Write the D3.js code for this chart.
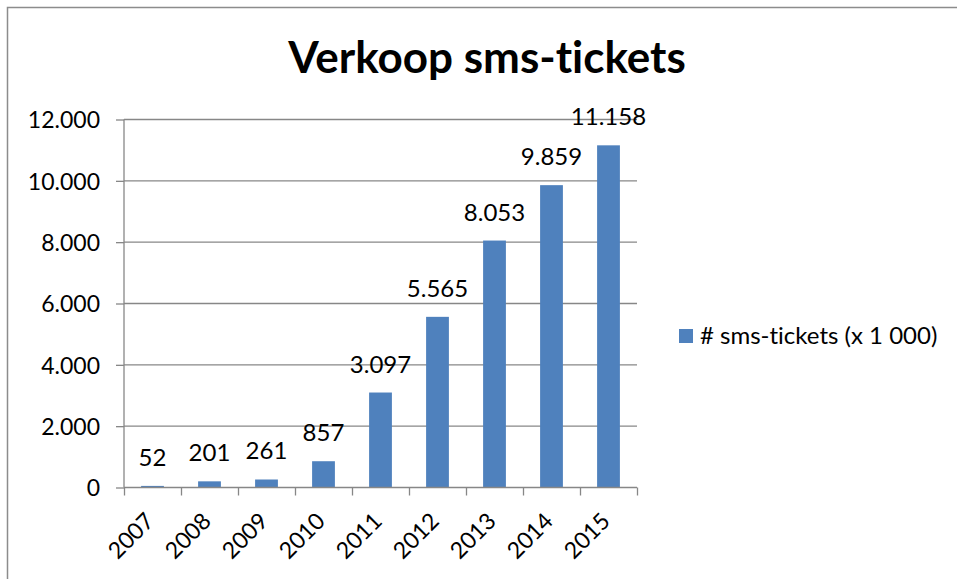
<!DOCTYPE html>
<html><head><meta charset="utf-8">
<script src="https://cdn.jsdelivr.net/npm/d3@7"></script>
<style>body{margin:0;background:#fff}svg{display:block}text{font-variant-ligatures:none;font-feature-settings:"liga" 0,"clig" 0}</style>
</head><body>
<svg id="c" width="957" height="579"></svg>
<script>
const title = "Verkoop sms-tickets";
const categories = ["2007","2008","2009","2010","2011","2012","2013","2014","2015"];
const values = [52,201,261,857,3097,5565,8053,9859,11158];
const valueLabels = ["52","201","261","857","3.097","5.565","8.053","9.859","11.158"];
const yTicks = [0,2000,4000,6000,8000,10000,12000];
const seriesName = "# sms-tickets (x 1 000)";

const svg = d3.select("#c");
const font = "Lato, 'Open Sans', sans-serif";
const gray = "#878787";
const blue = "#4F81BD";

// frame
svg.append("rect").attr("x",7.5).attr("y",7.5).attr("width",2000).attr("height",2000)
  .attr("fill","none").attr("stroke","#8c8c8c").attr("stroke-width",1.5);

const L=124, R=637, T=119.5, B=487.5;
const x = d3.scaleBand().domain(categories).range([L,R]).paddingInner(0.6).paddingOuter(0.3);
const xb = d3.scaleLinear().domain([0,categories.length]).range([L,R]);
const y = d3.scaleLinear().domain([0,12000]).range([B,T]);

// gridlines
svg.append("g").selectAll("line").data(yTicks.filter(d=>d>0)).join("line")
  .attr("x1",L).attr("x2",R).attr("y1",d=>y(d)).attr("y2",d=>y(d))
  .attr("stroke",gray).attr("stroke-width",1.3);

// y axis
const yAxis = svg.append("g").attr("transform",`translate(${L},0)`)
  .call(d3.axisLeft(y).tickValues(yTicks).tickSize(8).tickPadding(16)
    .tickFormat(d=>d3.format(",")(d).replace(/,/g,".")));
yAxis.select(".domain").attr("stroke",gray).attr("stroke-width",1.3).attr("d",`M0,${T}V${B}`);
yAxis.selectAll(".tick line").attr("stroke",gray).attr("stroke-width",1.3);
yAxis.selectAll("text").attr("font-family",font).attr("font-size",23).attr("fill","#000").attr("dy","0.36em");

// bars
svg.append("g").selectAll("rect").data(values).join("rect")
  .attr("x",(d,i)=>x(categories[i])).attr("width",x.bandwidth())
  .attr("y",d=>y(d)).attr("height",d=>B-y(d)).attr("fill",blue);

// x axis
const xAxis = svg.append("g").attr("transform",`translate(0,${B})`)
  .call(d3.axisBottom(xb).tickValues(d3.range(categories.length+1)).tickSize(8).tickFormat(""));
xAxis.select(".domain").attr("stroke",gray).attr("stroke-width",1.3).attr("d",`M${L},0H${R}`);
xAxis.selectAll(".tick line").attr("stroke",gray).attr("stroke-width",1.3);

svg.append("g").selectAll("text").data(categories).join("text")
  .attr("transform",d=>`translate(${x(d)+x.bandwidth()/2+3},${B+35}) rotate(-45)`)
  .attr("text-anchor","end").attr("font-family",font).attr("font-size",23).attr("fill","#000")
  .text(d=>d);

// data labels
svg.append("g").selectAll("text").data(values).join("text")
  .attr("x",(d,i)=>x(categories[i])+x.bandwidth()/2).attr("y",d=>y(d)-20)
  .attr("text-anchor","middle").attr("font-family",font).attr("font-size",24).attr("fill","#000")
  .text((d,i)=>valueLabels[i]);

// title
svg.append("text").attr("x",487).attr("y",73).attr("text-anchor","middle")
  .attr("font-family",font).attr("font-weight","bold").attr("font-size",44).attr("fill","#000").text(title);

// legend
svg.append("rect").attr("x",679).attr("y",329).attr("width",14).attr("height",14).attr("fill",blue);
svg.append("text").attr("x",700).attr("y",344).attr("font-family",font).attr("font-size",24).attr("fill","#000").text(seriesName);
</script>
</body></html>
